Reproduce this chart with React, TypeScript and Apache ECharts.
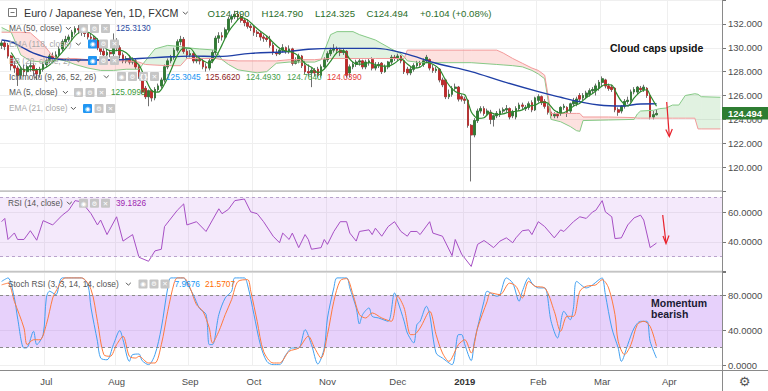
import React, { useEffect, useRef } from 'react';
import * as echarts from 'echarts';

const FONT = '"Liberation Sans", Arial, sans-serif';

// ---------- axis / tick labels ----------
const monthNames = ['Jan', 'Feb', 'Mar', 'Apr', 'May', 'Jun', 'Jul', 'Aug', 'Sep', 'Oct', 'Nov', 'Dec'];
const sessionStart = [2018, 5, 12];
const sessionCount = 226;

// ---------- candles: [open, close, low, high] ----------
const candles: number[][] = [
  [130.2,130.4,129.9,130.6],[130.4,130.1,129.8,130.6],[130.2,129.3,129.1,130.4],[129.3,128.5,128.1,129.4],
  [128.5,128.3,127.9,128.9],[128.3,127.7,126.8,128.5],[127.7,128.2,127.4,128.4],[128.2,128.0,127.6,128.6],
  [128.0,128.4,127.7,128.6],[128.4,128.5,128.0,128.9],[128.5,128.1,127.6,128.7],[128.1,127.8,127.3,128.3],
  [127.8,128.2,127.5,128.4],[128.2,128.6,128.0,128.8],[128.6,128.9,128.4,129.1],[128.9,129.3,128.7,129.5],
  [129.3,129.1,128.8,129.6],[129.1,129.4,128.9,129.7],[129.4,129.9,129.2,130.1],[129.9,130.5,129.7,130.7],
  [130.5,130.7,130.3,131.0],[130.7,130.9,130.5,131.1],[130.9,131.3,130.6,131.5],[131.3,131.6,131.1,131.8],
  [131.6,131.5,131.2,131.9],[131.5,131.3,131.0,131.7],[131.3,131.2,130.9,131.6],[131.2,130.9,130.7,131.4],
  [130.9,130.8,130.5,131.2],[130.8,130.6,130.3,131.0],[130.6,130.0,129.8,130.8],[130.0,129.7,129.4,130.2],
  [129.7,129.4,129.2,130.0],[129.4,129.6,129.2,129.9],[129.6,129.5,129.2,129.8],[129.5,130.5,129.3,131.2],
  [130.5,130.0,129.7,130.8],[130.0,129.4,129.1,130.2],[129.4,128.9,128.7,129.6],[128.9,129.1,128.7,129.3],
  [129.1,128.8,128.6,129.4],[128.8,128.9,128.6,129.2],[128.9,128.4,128.2,129.1],[128.4,127.6,127.4,128.6],
  [127.6,126.3,126.1,127.8],[126.6,125.9,125.7,126.8],[125.9,126.4,125.1,126.5],[126.4,125.8,125.5,126.5],
  [125.8,126.5,125.6,126.7],[126.5,126.8,126.3,127.0],[126.8,127.3,126.6,127.5],[127.3,128.4,127.1,128.6],
  [128.4,128.9,128.2,129.1],[128.9,129.2,128.7,129.4],[129.2,129.8,129.0,130.0],[129.8,130.5,129.6,130.7],
  [130.5,130.7,130.2,131.0],[130.7,129.7,129.5,130.9],[129.7,129.4,129.1,129.9],[129.4,129.5,129.2,129.8],
  [129.5,128.9,128.7,129.7],[128.9,129.0,128.7,129.3],[129.0,128.9,128.6,129.2],[128.9,128.4,128.2,129.1],
  [128.4,128.3,128.0,128.7],[128.3,128.9,128.1,129.1],[128.9,129.6,128.7,129.8],[129.6,130.8,129.4,131.0],
  [130.8,131.0,130.4,131.3],[131.0,130.9,130.6,131.3],[130.9,131.5,130.7,131.7],[131.5,132.4,131.3,132.6],
  [132.4,132.6,132.1,132.8],[132.6,132.8,132.4,133.1],[132.8,132.6,132.3,133.1],[132.6,132.3,132.1,132.8],
  [132.3,132.1,131.8,132.5],[132.1,131.8,131.6,132.4],[131.8,131.7,131.4,132.0],[131.7,131.3,131.0,131.9],
  [131.3,131.2,130.9,131.5],[131.2,130.9,130.6,131.4],[130.9,130.8,130.5,131.1],[130.8,130.7,130.5,131.0],
  [130.7,130.2,130.0,131.0],[130.2,129.6,129.4,130.4],[129.6,129.5,129.3,129.9],[129.5,129.8,129.4,130.0],
  [129.8,130.0,129.6,130.3],[130.0,129.7,129.5,130.1],[129.7,129.9,129.5,130.2],[129.9,128.7,128.5,130.0],
  [128.7,128.9,128.6,129.2],[128.9,129.3,128.7,129.5],[129.3,128.5,128.3,129.4],[128.5,128.0,127.8,128.9],
  [128.0,127.9,127.6,128.6],[127.9,128.1,126.7,128.3],[128.1,127.9,127.6,128.3],[128.2,127.7,127.5,128.4],
  [127.7,128.4,127.5,128.6],[128.4,129.0,128.2,129.2],[129.0,129.5,128.8,129.7],[129.5,129.8,129.3,130.0],
  [129.8,129.9,129.6,130.3],[129.9,129.8,129.5,130.1],[129.8,129.6,129.3,130.0],[129.6,129.7,129.4,129.9],
  [129.7,127.7,127.5,129.8],[127.9,128.4,127.5,128.6],[128.4,128.6,128.2,128.8],[128.6,128.8,128.4,129.0],
  [128.8,128.9,128.5,129.1],[128.9,128.4,128.2,129.0],[128.4,128.8,128.2,129.0],[128.8,128.9,128.5,129.1],
  [129.0,128.3,128.1,129.2],[128.3,128.5,128.1,128.8],[128.5,128.6,128.3,128.8],[128.7,128.0,127.8,128.8],
  [128.0,128.4,127.9,128.6],[128.4,128.8,128.2,128.9],[128.8,129.2,128.6,129.4],[129.2,129.1,128.9,129.4],
  [129.1,129.3,128.9,129.5],[129.3,128.9,128.7,129.4],[128.9,128.0,127.8,129.0],[128.2,127.9,127.7,128.4],
  [127.9,128.2,127.7,128.4],[128.2,128.5,128.0,128.7],[128.5,128.7,128.3,128.9],[128.7,128.6,128.4,128.9],
  [128.6,128.9,128.4,129.1],[128.9,129.2,128.7,129.4],[129.0,128.3,128.1,129.1],[128.3,128.1,127.9,128.6],
  [128.1,128.2,127.9,128.4],[128.2,127.3,127.1,128.3],[127.3,126.9,126.7,127.5],[127.3,125.9,125.7,127.4],
  [125.9,126.1,125.7,126.5],[126.1,126.6,125.9,126.8],[126.6,126.7,126.4,127.0],[126.7,125.7,125.5,126.8],
  [125.9,125.7,125.5,126.1],[125.7,125.6,125.3,125.9],[125.6,123.5,123.3,125.7],[123.5,122.7,118.8,123.6],
  [122.7,123.9,122.5,124.1],[123.9,124.7,123.7,124.9],[124.7,124.9,124.5,125.1],[124.9,124.5,124.3,125.1],
  [124.5,124.7,124.3,124.9],[124.6,124.0,123.6,124.8],[124.0,124.3,123.4,124.4],[124.3,124.5,124.1,124.7],
  [124.4,124.7,124.2,124.9],[124.7,124.8,124.5,125.0],[124.8,124.9,124.6,125.2],[124.9,124.2,124.0,125.0],
  [124.3,124.6,124.1,124.8],[124.2,124.9,124.0,125.1],[124.9,125.2,124.7,125.4],[125.2,125.1,124.8,125.4],
  [124.9,125.0,124.7,125.2],[125.0,125.3,124.8,125.5],[125.4,124.8,124.6,125.6],[124.8,125.8,124.7,125.9],
  [125.6,125.9,125.4,126.1],[125.9,125.4,125.2,126.0],[125.5,125.1,124.9,125.7],[125.1,124.6,124.4,125.3],
  [124.6,124.3,124.1,124.8],[124.3,124.4,124.1,124.6],[124.4,124.3,124.1,124.7],[124.5,125.0,124.3,125.1],
  [125.0,125.1,124.8,125.3],[125.0,124.6,124.2,125.1],[124.7,125.3,124.5,125.4],[125.3,125.5,125.1,125.8],
  [125.3,125.7,125.1,125.9],[126.0,125.7,125.5,126.2],[125.8,126.0,125.6,126.2],[125.9,126.2,125.7,126.4],
  [126.1,126.4,125.9,126.6],[126.4,126.5,126.2,126.7],[126.4,126.8,126.0,127.0],[126.6,127.1,126.4,127.3],
  [127.1,127.4,126.8,127.6],[127.3,126.8,126.6,127.4],[126.8,126.6,126.4,127.0],[126.7,126.5,126.3,126.9],
  [126.6,124.8,124.6,126.7],[124.8,124.6,124.3,125.0],[124.7,125.1,124.5,125.2],[125.1,125.5,124.9,125.7],
  [125.5,125.6,125.3,125.9],[125.6,126.3,125.4,126.5],[126.3,126.5,126.1,126.7],[126.3,126.7,126.1,126.8],
  [126.6,126.5,126.3,126.8],[126.5,126.7,126.3,126.9],[126.6,126.0,125.8,126.7],[126.0,124.2,124.0,126.1],
  [124.2,124.39,124.0,124.7],[124.39,124.494,124.325,124.79],
];

// ---------- moving averages: [session index, value] ----------
const ma50: number[][] = [
  [0,130.65],[3,130.5],[6,130.1],[10,129.55],[16,129.1],[24,128.97],[31,128.97],[37,129.0],[43,129.1],
  [50,129.2],[59,129.3],[68,129.27],[78,129.53],[89,129.67],[96,129.87],[104,129.95],[117,129.95],
  [126,129.53],[136,128.7],[147,128.0],[157,127.16],[168,126.32],[175,125.85],[181,125.48],[187,125.2],
  [194,125.12],[200,125.29],[205,125.31],
];
const ma5: number[][] = [
  [3,129.6],[5,128.78],[7,128.14],[9,128.16],[11,128.16],[13,128.24],[15,128.56],[17,129.06],[19,129.64],
  [21,130.28],[23,131.0],[25,131.32],[27,131.3],[29,130.96],[31,130.4],[33,129.86],[35,129.74],[37,129.8],
  [39,129.58],[41,129.02],[43,128.56],[45,127.42],[47,126.4],[49,126.28],[51,126.96],[53,128.12],[55,129.36],
  [57,129.98],[59,129.96],[61,129.3],[63,128.94],[65,128.7],[67,129.2],[69,130.24],[71,131.32],[73,132.04],
  [75,132.54],[77,132.32],[79,131.84],[81,131.38],[83,130.98],[85,130.44],[87,129.96],[89,129.72],[91,129.62],
  [93,129.3],[95,128.68],[97,128.36],[99,127.92],[101,128.22],[103,128.88],[105,129.6],[107,129.76],[109,129.04],
  [111,128.64],[113,128.62],[115,128.76],[117,128.58],[119,128.46],[121,128.46],[123,128.7],[125,129.06],
  [127,128.64],[129,128.3],[131,128.38],[133,128.78],[135,128.62],[137,128.22],[139,127.28],[141,126.56],
  [143,126.2],[145,126.06],[146,125.44],[147,124.64],[148,124.28],[149,124.08],[151,124.14],[153,124.56],
  [155,124.4],[157,124.46],[159,124.62],[161,124.68],[163,124.8],[165,125.1],[167,125.2],[169,125.44],
  [171,125.36],[173,124.76],[175,124.52],[177,124.68],[179,125.1],[181,125.36],[183,125.82],[185,126.16],
  [187,126.6],[189,126.92],[191,126.88],[192,126.42],[194,125.52],[196,125.12],[198,125.8],[200,126.32],
  [202,126.48],[203,126.02],[204,125.56],[205,125.1],
];

// ---------- Ichimoku leading spans (session index, span A, span B) ----------
const cloudIdx = [0,3,6,9,13,16,18,20,23,27,31,35,39,43,45,48,52,56,58,62,67,69,71,74,80,83,86,90,98,100,
  103,105,110,112,117,122,125,126,127,131,140,147,155,157,160,163,166,168,170,172,175,178,180,181,182,190,
  198,199,200,204,206,208,210,212,214,217,218,219,225];
const spanA = [131.7,131.3,129.4,128.9,128.8,128.9,129.0,128.9,128.6,128.3,128.1,128.1,128.2,128.2,128.9,
  129.9,130.2,130.1,130.0,129.9,129.8,129.0,128.6,128.15,127.9,128.0,128.7,128.8,128.8,129.0,131.1,131.35,
  131.35,131.1,130.65,129.9,129.5,129.25,128.9,128.75,128.75,128.75,128.6,128.56,128.5,128.4,128.1,127.8,
  127.4,124.0,123.8,123.4,123.05,123.0,123.9,123.95,124.0,124.45,124.7,124.76,124.9,124.95,125.2,125.2,
  126.0,126.15,126.1,125.9,125.85];
const spanB = [131.3,131.3,131.3,131.25,130.3,129.3,129.1,129.1,129.1,129.0,129.0,128.9,128.9,128.8,128.6,
  128.55,128.5,128.5,129.1,129.1,129.1,129.0,128.95,128.9,128.9,128.9,128.9,129.0,129.0,129.05,129.1,129.1,
  129.1,129.1,129.1,129.1,129.1,129.1,129.8,129.8,129.8,129.8,129.8,129.56,129.1,128.7,128.3,128.1,127.7,
  124.5,124.5,124.5,124.5,124.5,124.2,124.2,124.15,124.1,124.1,124.1,124.1,124.1,124.1,124.1,124.1,124.1,
  123.2,123.2,123.2];

// ---------- RSI (14) ----------
const rsi: number[][] = [
  [0,53.6],[1,55.8],[2,41.6],[4,46],[5,41.6],[7,41.6],[9,47.5],[11,41.1],[13,54.3],[16,51.4],[19,58],[21,61.3],
  [23,67.8],[25,67],[28,59],[30,51.4],[31,54.7],[33,44.9],[36,56.9],[38,40.5],[41,44.9],[43,29.6],[46,26.9],
  [48,33.9],[50,35],[51,50.3],[55,61.3],[57,65.6],[58,51.4],[61,53.6],[64,47],[66,54.7],[68,62.3],[69,59],
  [71,61.9],[73,67.8],[76,68.9],[78,60.2],[80,59],[82,53.6],[85,43.8],[87,39.4],[88,45.9],[90,41.6],[91,45.9],
  [93,36.1],[95,44.9],[96,41.6],[97,35],[100,36.1],[101,41.6],[102,38.3],[104,47],[106,53.6],[108,53.6],
  [109,45.9],[111,40.5],[112,47],[115,48.1],[116,44.9],[117,49.2],[119,43.8],[121,50.3],[123,53.6],[125,47],
  [127,43.8],[128,47],[130,47],[131,44.9],[134,53.6],[135,45.9],[138,43.8],[141,30.7],[142,41.6],[144,31.7],
  [147,23.4],[149,38.3],[151,40.9],[152,39.4],[154,36.1],[156,40.5],[158,42.7],[160,39.4],[161,42.7],
  [163,47.5],[165,48.1],[166,44.9],[168,53.6],[170,50.3],[173,42.7],[175,48.1],[176,47],[179,53.6],
  [181,56.9],[183,55.8],[185,60.2],[186,61.3],[188,67.8],[189,60.2],[191,56.9],[192,42.2],[194,42.7],
  [196,51.4],[198,56.2],[200,58],[201,54.7],[203,36.1],[205,39.18],
];

// ---------- Stoch RSI (3,3,14,14): K and D ----------
const stochK: number[][] = [
  [0,96],[2,100],[4,77],[5,54],[7,19.5],[8,20],[10,38.7],[11,23.4],[13,34.9],[14,77],[15,84.7],[17,80.8],
  [19,100],[25,100],[27,92],[28,65.5],[30,27.2],[31,8],[33,6],[35,23.4],[37,39.5],[38,29],[40,4.2],[41,11.9],
  [43,12.6],[44,5],[46,0.4],[48,11.9],[50,42.5],[52,88.5],[53,100],[57,100],[58,94],[60,80.8],[62,64.8],
  [64,57.9],[65,23.4],[66,23.4],[68,57.9],[70,77],[72,84.7],[73,100],[76,100],[77,92],[79,57.9],[81,23.4],
  [83,4.2],[85,0.4],[87,0.4],[89,11.9],[91,19.5],[93,19.5],[95,40.6],[97,23.4],[99,1.1],[101,19.5],[102,54],
  [104,88.5],[105,100],[108,100],[109,88.5],[111,65.5],[112,47.1],[113,57.9],[115,65.5],[116,55.9],[118,54],
  [121,50.2],[123,82.8],[124,73.2],[126,50.2],[127,36.8],[129,25.3],[130,46.4],[131,50.2],[133,67.4],
  [134,57.9],[136,13.8],[138,8],[141,0.4],[143,34.9],[144,34.9],[145,23.4],[147,5],[148,27.2],[151,73.2],
  [152,84.7],[155,78.9],[156,80.8],[158,100],[160,94],[162,73.2],[163,84.7],[165,100],[166,94],[168,88.5],
  [170,88.5],[172,50.2],[174,31],[176,61.7],[178,52],[179,65.5],[180,96],[183,88.5],[185,92],[187,98],
  [188,100],[189,80.8],[191,42.5],[193,19.5],[194,4.2],[196,23.4],[198,42.5],[200,50.2],[202,50.2],
  [203,27.2],[205,7.97],
];
const stochD: number[][] = [
  [0,92],[2,94],[4,73],[7,42.5],[8,23.4],[10,29],[12,29],[14,46.4],[16,77],[17,84.7],[20,100],[25,100],
  [28,86.6],[30,50.2],[32,11.9],[34,10],[36,23.4],[38,33],[40,10],[42,8],[43,10],[46,2.3],[48,2.3],[50,23.4],
  [52,61.7],[54,94],[55,100],[57,100],[59,88.5],[61,69.3],[63,61.7],[65,42.5],[66,25.3],[68,38.7],[70,57.9],
  [72,75.1],[74,96],[77,98],[78,84.7],[80,50.2],[82,15.7],[85,2.3],[87,2.3],[90,15.7],[93,19.5],[96,33],
  [98,19.5],[100,8],[102,34.9],[104,73.2],[106,96.9],[108,99.2],[110,80.8],[112,57.9],[114,54],[116,59.8],
  [119,54],[122,50.2],[124,78.9],[126,65.5],[128,34.9],[129,34.9],[131,42.5],[134,61.7],[136,34.9],[138,13.8],
  [140,4.2],[143,23.4],[145,29],[147,13.8],[149,42.5],[152,73.2],[153,82.8],[156,80.8],[159,94],[161,90.4],
  [163,77],[165,96],[167,90.4],[170,88.5],[173,61.7],[175,38.7],[177,55.9],[179,55.9],[181,84.7],[183,90.4],
  [186,92],[188,98],[190,88.5],[192,57.9],[193,27.2],[195,11.9],[197,23.4],[199,46.4],[201,50.2],[203,44.4],
  [205,21.57],
];

// ---------- legend readouts ----------
const legendValues = {
  ma50: '125.3130',
  ichimoku: ['125.3045', '125.6620', '124.4930', '124.7640', '124.0390'],
  ma5: '125.0999',
  rsi: '39.1826',
  stoch: ['7.9676', '21.5707'],
};

function buildSessions(): string[] {
  const out: string[] = [];
  const d = new Date(Date.UTC(sessionStart[0], sessionStart[1], sessionStart[2]));
  while (out.length < sessionCount) {
    const wd = d.getUTCDay();
    if (wd !== 0 && wd !== 6) out.push(d.toISOString().slice(0, 10));
    d.setUTCDate(d.getUTCDate() + 1);
  }
  return out;
}

const UP = '#2e7d32';
const DOWN = '#c62828';
const WICK = '#707070';
const GRIDC = '#efefef';

function txt(x: number, y: number, text: string, fill: string, size: number, weight = 'normal', align = 'left', family = FONT) {
  return {
    type: 'text', x, y, z: 100, silent: true,
    style: { text, fill, font: `${weight} ${size}px ${family}`, textAlign: align, textVerticalAlign: 'middle' },
  };
}
function icon(x: number, y: number, glyph: string, blue = false) {
  return [
    { type: 'rect', z: 100, silent: true, shape: { x, y, width: 9, height: 9, r: 1 }, style: { fill: blue ? '#2196f3' : '#c6c6c6' } },
    txt(x + 4.5, y + 4.8, glyph, '#ffffff', 6.5, 'bold', 'center', '"DejaVu Sans", sans-serif'),
  ];
}
function chevron(x: number, y: number) {
  return { type: 'polyline', z: 100, silent: true, shape: { points: [[x, y - 1.2], [x + 2.4, y + 1.2], [x + 4.8, y - 1.2]] }, style: { stroke: '#555', lineWidth: 1, fill: 'none' } };
}

function buildOption() {
  const sessions = buildSessions();
  const isMonthStart = (i: number) => i > 0 && sessions[i].slice(5, 7) !== sessions[i - 1].slice(5, 7);
  const xBase = (gridIndex: number, showLabels: boolean) => ({
    type: 'category', gridIndex, data: sessions, boundaryGap: true,
    axisLine: { show: false }, axisTick: { show: false },
    splitLine: { show: true, interval: (i: number) => isMonthStart(i), lineStyle: { color: GRIDC, width: 1 } },
    axisLabel: showLabels ? {
      show: true, interval: (i: number) => isMonthStart(i), margin: 11, fontSize: 9.5, color: '#4d4d4d', fontFamily: FONT,
      formatter: (v: string) => {
        const m = +v.slice(5, 7);
        return m === 1 ? `{y|${v.slice(0, 4)}}` : monthNames[m - 1];
      },
      rich: { y: { fontWeight: 'bold', fontSize: 9.5, color: '#333', fontFamily: FONT } },
    } : { show: false },
  });
  const yBase = (gridIndex: number, min: number, max: number, interval: number, fmt: (v: number) => string) => ({
    type: 'value', gridIndex, position: 'right', min, max, interval,
    axisLine: { show: false },
    axisTick: { show: true, length: 4, lineStyle: { color: '#777' } },
    splitLine: { show: true, lineStyle: { color: GRIDC } },
    axisLabel: { show: true, margin: 6, fontSize: 9.5, color: '#4d4d4d', fontFamily: FONT, formatter: fmt },
  });

  const segments = cloudIdx.slice(0, -1).map((x, k) => [x, spanA[k], spanB[k], cloudIdx[k + 1], spanA[k + 1], spanB[k + 1]]);
  const bodies = candles.map(([o, c]) => [o, c, Math.min(o, c), Math.max(o, c)]);

  return {
    animation: false,
    backgroundColor: '#ffffff',
    textStyle: { fontFamily: FONT },
    grid: [
      { left: 0, right: 46, top: 0, height: 191 },
      { left: 0, right: 46, top: 191, height: 80.5 },
      { left: 0, right: 46, top: 272, height: 93 },
    ],
    xAxis: [xBase(0, false), xBase(1, false), xBase(2, true)],
    yAxis: [
      yBase(0, 118, 134, 2, (v: number) => (v > 119.5 && v < 132.5 ? v.toFixed(3) : '')),
      yBase(1, 20, 74.3, 20, (v: number) => (v === 40 || v === 60 ? v.toFixed(4) : '')),
      yBase(2, 0, 106.8, 40, (v: number) => (v === 0 || v === 40 || v === 80 ? v.toFixed(4) : '')),
    ],
    series: [
      {
        type: 'custom', name: 'cloud', xAxisIndex: 0, yAxisIndex: 0, silent: true, data: segments,
        encode: { x: 0, y: 1 },
        renderItem: (_p: any, api: any) => {
          const x0 = api.value(0), a0 = api.value(1), b0 = api.value(2);
          const x1 = api.value(3), a1 = api.value(4), b1 = api.value(5);
          const P = (x: number, y: number) => api.coord([x, y]);
          const g = 'rgba(76,175,80,0.17)', r = 'rgba(244,67,54,0.16)';
          const d0 = a0 - b0, d1 = a1 - b1;
          const polys: any[] = [];
          if (d0 * d1 < 0) {
            const t = d0 / (d0 - d1);
            const xc = x0 + t * (x1 - x0), yc = a0 + t * (a1 - a0);
            polys.push({ pts: [P(x0, a0), P(xc, yc), P(x0, b0)], c: d0 > 0 ? g : r });
            polys.push({ pts: [P(xc, yc), P(x1, a1), P(x1, b1)], c: d1 > 0 ? g : r });
          } else {
            polys.push({ pts: [P(x0, a0), P(x1, a1), P(x1, b1), P(x0, b0)], c: d0 + d1 >= 0 ? g : r });
          }
          return { type: 'group', children: polys.map((p) => ({ type: 'polygon', shape: { points: p.pts }, style: { fill: p.c } })) };
        },
      },
      { type: 'line', name: 'spanA', xAxisIndex: 0, yAxisIndex: 0, data: cloudIdx.map((x, k) => [x, spanA[k]]), symbol: 'none', silent: true, lineStyle: { color: '#86c986', width: 1 } },
      { type: 'line', name: 'spanB', xAxisIndex: 0, yAxisIndex: 0, data: cloudIdx.map((x, k) => [x, spanB[k]]), symbol: 'none', silent: true, lineStyle: { color: '#f29a9a', width: 1 } },
      {
        type: 'candlestick', name: 'wicks', xAxisIndex: 0, yAxisIndex: 0, data: candles, barWidth: 2.2, silent: true,
        itemStyle: { color: WICK, color0: WICK, borderColor: WICK, borderColor0: WICK, borderWidth: 1 },
      },
      {
        type: 'candlestick', name: 'bodies', xAxisIndex: 0, yAxisIndex: 0, data: bodies, barWidth: 2.2, silent: true,
        itemStyle: { color: UP, color0: DOWN, borderColor: UP, borderColor0: DOWN, borderWidth: 0.6 },
      },
      { type: 'line', name: 'MA50', xAxisIndex: 0, yAxisIndex: 0, data: ma50, symbol: 'none', smooth: 0.4, silent: true, lineStyle: { color: '#1f3fa6', width: 1.4 } },
      { type: 'line', name: 'MA5', xAxisIndex: 0, yAxisIndex: 0, data: ma5, symbol: 'none', smooth: 0.3, silent: true, lineStyle: { color: '#2e8b2e', width: 1.2 } },
      {
        type: 'line', name: 'RSI', xAxisIndex: 1, yAxisIndex: 1, data: rsi, symbol: 'none', silent: true,
        lineStyle: { color: '#a64fc4', width: 1 },
        markArea: { silent: true, itemStyle: { color: 'rgba(180,100,230,0.14)' }, data: [[{ yAxis: 30 }, { yAxis: 70 }]] },
        markLine: { silent: true, symbol: ['none', 'none'], label: { show: false }, lineStyle: { color: '#b9a3cc', type: [3, 3], width: 1 }, data: [{ yAxis: 70 }, { yAxis: 30 }] },
      },
      {
        type: 'line', name: 'StochK', xAxisIndex: 2, yAxisIndex: 2, data: stochK, symbol: 'none', smooth: 0.3, silent: true,
        lineStyle: { color: '#42a0f0', width: 1 },
        markArea: { silent: true, itemStyle: { color: 'rgba(170,90,240,0.28)' }, data: [[{ yAxis: 20 }, { yAxis: 80 }]] },
        markLine: { silent: true, symbol: ['none', 'none'], label: { show: false }, lineStyle: { color: '#8a8a8a', type: [3, 3], width: 1 }, data: [{ yAxis: 80 }, { yAxis: 20 }] },
      },
      { type: 'line', name: 'StochD', xAxisIndex: 2, yAxisIndex: 2, data: stochD, symbol: 'none', smooth: 0.3, silent: true, lineStyle: { color: '#ff7a3d', width: 1 } },
    ],
  };
}

function buildGraphics(priceY: number) {
  const last = candles[candles.length - 1];
  const prevClose = candles[candles.length - 2][1];
  const chg = last[1] - prevClose;
  const pct = (chg / prevClose) * 100;
  const ohlcColor = '#2a6e2a';
  const gray = '#555555';
  const faint = '#a8a8a8';
  const els: any[] = [];
  // title row
  els.push({ type: 'rect', z: 100, silent: true, shape: { x: 8.5, y: 8.5, width: 8, height: 8 }, style: { fill: 'none', stroke: '#777', lineWidth: 1 } });
  els.push({ type: 'line', z: 100, silent: true, shape: { x1: 10.5, y1: 12.5, x2: 14.5, y2: 12.5 }, style: { stroke: '#777', lineWidth: 1 } });
  els.push(txt(24, 13, 'Euro / Japanese Yen, 1D, FXCM', '#333333', 10.7));
  els.push(chevron(183, 13));
  els.push(txt(207.5, 13, `O${last[0].toFixed(3)}`, ohlcColor, 9.6));
  els.push(txt(261.5, 13, `H${last[3].toFixed(3)}`, ohlcColor, 9.6));
  els.push(txt(315, 13, `L${last[2].toFixed(3)}`, ohlcColor, 9.6));
  els.push(txt(366.5, 13, `C${last[1].toFixed(3)}`, ohlcColor, 9.6));
  els.push(txt(420, 13, `${chg >= 0 ? '+' : ''}${chg.toFixed(3)} (${pct >= 0 ? '+' : ''}${pct.toFixed(2)}%)`, ohlcColor, 9.6));

  const fs = 8.3;
  // MA 50
  els.push(txt(9, 28.3, 'MA (50, close)', gray, fs)); els.push(chevron(66, 28.3));
  els.push(...icon(79, 24, '◉'), ...icon(90, 24, '⚙'), ...icon(101, 24, '✕'));
  els.push(txt(116, 28.3, legendValues.ma50, '#2c4aa0', fs));
  // EMA 118 (hidden)
  els.push(txt(9, 44, 'EMA (118, close)', faint, fs)); els.push(chevron(76, 44));
  els.push(...icon(88, 39.5, '◉', true), ...icon(99, 39.5, '⚙'), ...icon(110, 39.5, '✕'));
  // BB (hidden)
  els.push(txt(9, 60.7, 'BB (20, close, 2)', faint, fs)); els.push(chevron(76, 60.7));
  els.push(...icon(88, 56, '◉', true), ...icon(99, 56, '⚙'), ...icon(110, 56, '✕'));
  // Ichimoku
  els.push(txt(9, 76.7, 'Ichimoku (9, 26, 52, 26)', gray, fs)); els.push(chevron(104, 76.7));
  els.push(...icon(117, 72, '◉'), ...icon(128, 72, '⚙'), ...icon(139, 72, '{}'), ...icon(150, 72, '✕'));
  const ichiColors = ['#2196f3', '#8e1b1b', '#43a047', '#43a047', '#e53935'];
  const ichiX = [166, 205.5, 246, 287, 327];
  legendValues.ichimoku.forEach((v, k) => els.push(txt(ichiX[k], 76.7, v, ichiColors[k], fs)));
  // MA 5
  els.push(txt(9, 92.3, 'MA (5, close)', gray, fs)); els.push(chevron(63, 92.3));
  els.push(...icon(74, 88, '◉'), ...icon(85.5, 88, '⚙'), ...icon(97, 88, '✕'));
  els.push(txt(111, 92.3, legendValues.ma5, '#3b9a3b', fs));
  // EMA 21 (hidden)
  els.push(txt(9, 108.3, 'EMA (21, close)', faint, fs)); els.push(chevron(71, 108.3));
  els.push(...icon(83, 104, '◉', true), ...icon(94.5, 104, '⚙'), ...icon(106, 104, '✕'));
  // RSI legend
  els.push(txt(8, 203, 'RSI (14, close)', gray, fs)); els.push(chevron(67, 203));
  els.push(...icon(79, 198.8, '◉'), ...icon(90, 198.8, '⚙'), ...icon(101, 198.8, '✕'));
  els.push(txt(116, 203, legendValues.rsi, '#9c27b0', fs));
  // Stoch legend
  els.push(txt(8, 284, 'Stoch RSI (3, 3, 14, 14, close)', gray, fs)); els.push(chevron(126, 284));
  els.push(...icon(138.5, 279.5, '◉'), ...icon(149.5, 279.5, '⚙'), ...icon(160.5, 279.5, '✕'));
  els.push(txt(174.5, 284, legendValues.stoch[0], '#2196f3', fs));
  els.push(txt(205, 284, legendValues.stoch[1], '#ff6d00', fs));

  // panel separators and frame
  els.push({ type: 'rect', z: 90, silent: true, shape: { x: 0, y: 190.3, width: 722, height: 1.6 }, style: { fill: '#c4c4c4' } });
  els.push({ type: 'rect', z: 90, silent: true, shape: { x: 0, y: 270.8, width: 722, height: 1.6 }, style: { fill: '#c4c4c4' } });
  els.push({ type: 'line', z: 90, silent: true, shape: { x1: 0, y1: 370.5, x2: 768, y2: 370.5 }, style: { stroke: '#8a8a8a', lineWidth: 1 } });
  els.push({ type: 'line', z: 90, silent: true, shape: { x1: 722.5, y1: 0, x2: 722.5, y2: 391 }, style: { stroke: '#8a8a8a', lineWidth: 1 } });

  // last price tag (covers the upper part of the nearby axis label, as in the reference)
  els.push({ type: 'rect', z: 95, silent: true, shape: { x: 722, y: priceY - 6.5, width: 46, height: 12.5 }, style: { fill: '#2e7d32' } });
  els.push(txt(745, priceY - 0.3, last[1].toFixed(3), '#ffffff', 9.4, 'bold', 'center'));

  // annotations
  els.push(txt(610, 47.5, 'Cloud caps upside', '#111111', 10.5, 'bold'));
  els.push(txt(651, 303, 'Momentum', '#1a1a33', 10.5, 'bold'));
  els.push(txt(651, 313.5, 'bearish', '#1a1a33', 10.5, 'bold'));
  const red = '#e8202a';
  els.push({ type: 'line', z: 100, silent: true, shape: { x1: 666.7, y1: 102, x2: 669.3, y2: 136 }, style: { stroke: red, lineWidth: 1.2 } });
  els.push({ type: 'polyline', z: 100, silent: true, shape: { points: [[665.8, 129.5], [669.3, 136.5], [672.3, 129]] }, style: { stroke: red, lineWidth: 1.2, fill: 'none' } });
  els.push({ type: 'line', z: 100, silent: true, shape: { x1: 662.7, y1: 215, x2: 666, y2: 243 }, style: { stroke: red, lineWidth: 1.2 } });
  els.push({ type: 'polyline', z: 100, silent: true, shape: { points: [[663, 236], [666, 243.5], [669, 235.5]] }, style: { stroke: red, lineWidth: 1.2, fill: 'none' } });

  // settings gear
  els.push(txt(744.5, 381, '⚙', '#555555', 13, 'normal', 'center', '"DejaVu Sans", sans-serif'));
  return els;
}

export default function App() {
  const ref = useRef<HTMLDivElement>(null);
  useEffect(() => {
    const el = ref.current as HTMLDivElement;
    const chart = echarts.init(el, undefined, { renderer: 'svg', width: 768, height: 391 });
    chart.setOption(buildOption() as any);
    const lastClose = candles[candles.length - 1][1];
    const py = chart.convertToPixel({ yAxisIndex: 0 }, lastClose) as unknown as number;
    chart.setOption({ graphic: { elements: buildGraphics(py) } } as any);
    return () => chart.dispose();
  }, []);
  return <div ref={ref} style={{ position: 'fixed', left: 0, top: 0, width: 768, height: 391, background: '#fff' }} />;
}
